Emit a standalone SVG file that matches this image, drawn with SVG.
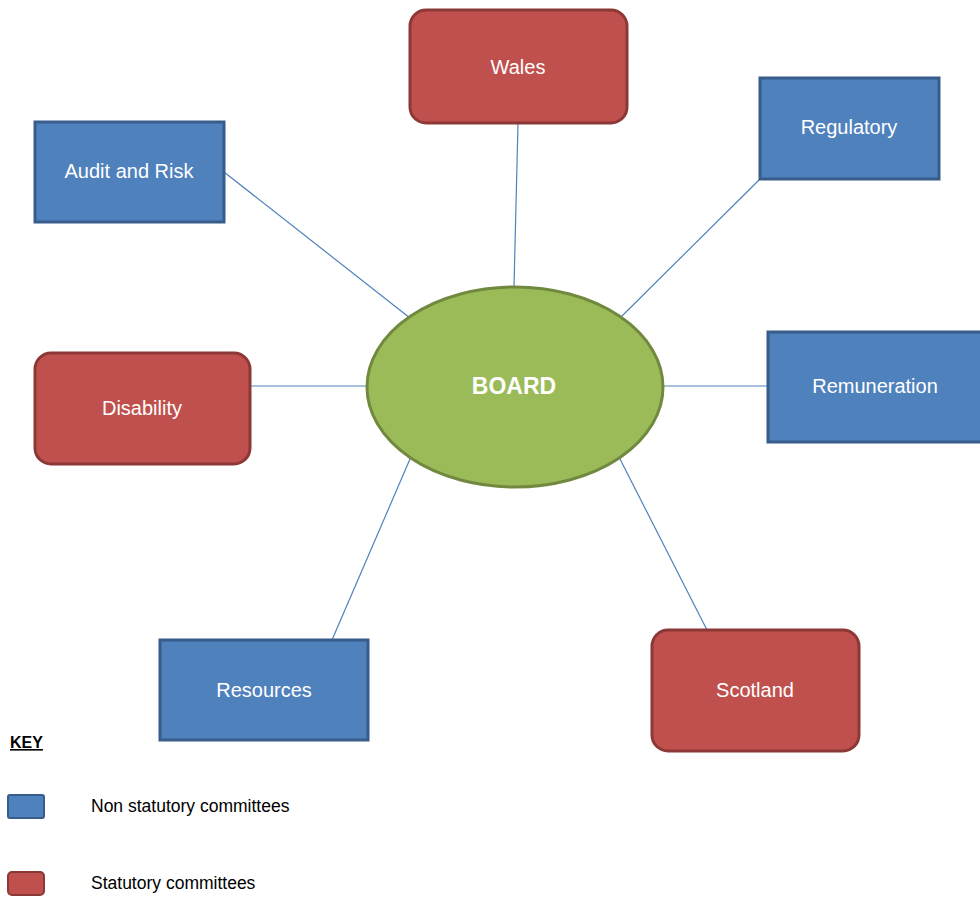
<svg xmlns="http://www.w3.org/2000/svg" width="980" height="898" viewBox="0 0 980 898">
<style>
.blue{fill:#4F81BD;stroke:#385D8A;stroke-width:3}
.red{fill:#C0504D;stroke:#8C3836;stroke-width:3}
.green{fill:#9BBB59;stroke:#71893F;stroke-width:3}
.lbl{font-family:"Liberation Sans",Arial,sans-serif;font-size:20px;fill:#fff;text-anchor:middle;dominant-baseline:central}
.key{font-family:"Liberation Sans",Arial,sans-serif;font-size:17.5px;fill:#000}
.conn line{stroke:#4F81BD;stroke-width:1.2}
</style>
<rect width="980" height="898" fill="#fff"/>
<g id="connectors" class="conn">
<line x1="518" y1="123" x2="514" y2="287"/>
<line x1="760" y1="179" x2="620" y2="318"/>
<line x1="224" y1="172" x2="410" y2="318"/>
<line x1="250" y1="386" x2="367" y2="386"/>
<line x1="664" y1="386" x2="768" y2="386"/>
<line x1="332" y1="640" x2="410" y2="459"/>
<line x1="707" y1="630" x2="620" y2="459"/>
</g>
<g id="board"><ellipse class="green" cx="515" cy="387" rx="148" ry="100"/><text class="lbl" x="514" y="386" style="font-weight:bold;font-size:23px">BOARD</text></g>
<g id="wales"><rect class="red" x="410" y="10" width="217" height="113" rx="16"/><text class="lbl" x="518" y="67">Wales</text></g>
<g id="regulatory"><rect class="blue" x="760" y="78" width="179" height="101"/><text class="lbl" x="849" y="127">Regulatory</text></g>
<g id="audit"><rect class="blue" x="35" y="122" width="189" height="100"/><text class="lbl" x="129" y="171">Audit and Risk</text></g>
<g id="disability"><rect class="red" x="35" y="353" width="215" height="111" rx="16"/><text class="lbl" x="142" y="408">Disability</text></g>
<g id="remuneration"><rect class="blue" x="768" y="332" width="214" height="110"/><text class="lbl" x="875" y="386">Remuneration</text></g>
<g id="resources"><rect class="blue" x="160" y="640" width="208" height="100"/><text class="lbl" x="264" y="690">Resources</text></g>
<g id="scotland"><rect class="red" x="652" y="630" width="207" height="121" rx="16"/><text class="lbl" x="755" y="690">Scotland</text></g>
<g id="key">
<text class="key" x="10" y="748" style="font-weight:bold;text-decoration:underline;font-size:16px">KEY</text>
<rect class="blue" x="8" y="795" width="36" height="23" rx="2" style="stroke-width:2"/>
<text class="key" x="91" y="812">Non statutory committees</text>
<rect class="red" x="8" y="872" width="36" height="23" rx="4" style="stroke-width:2"/>
<text class="key" x="91" y="889">Statutory committees</text>
</g>
</svg>
